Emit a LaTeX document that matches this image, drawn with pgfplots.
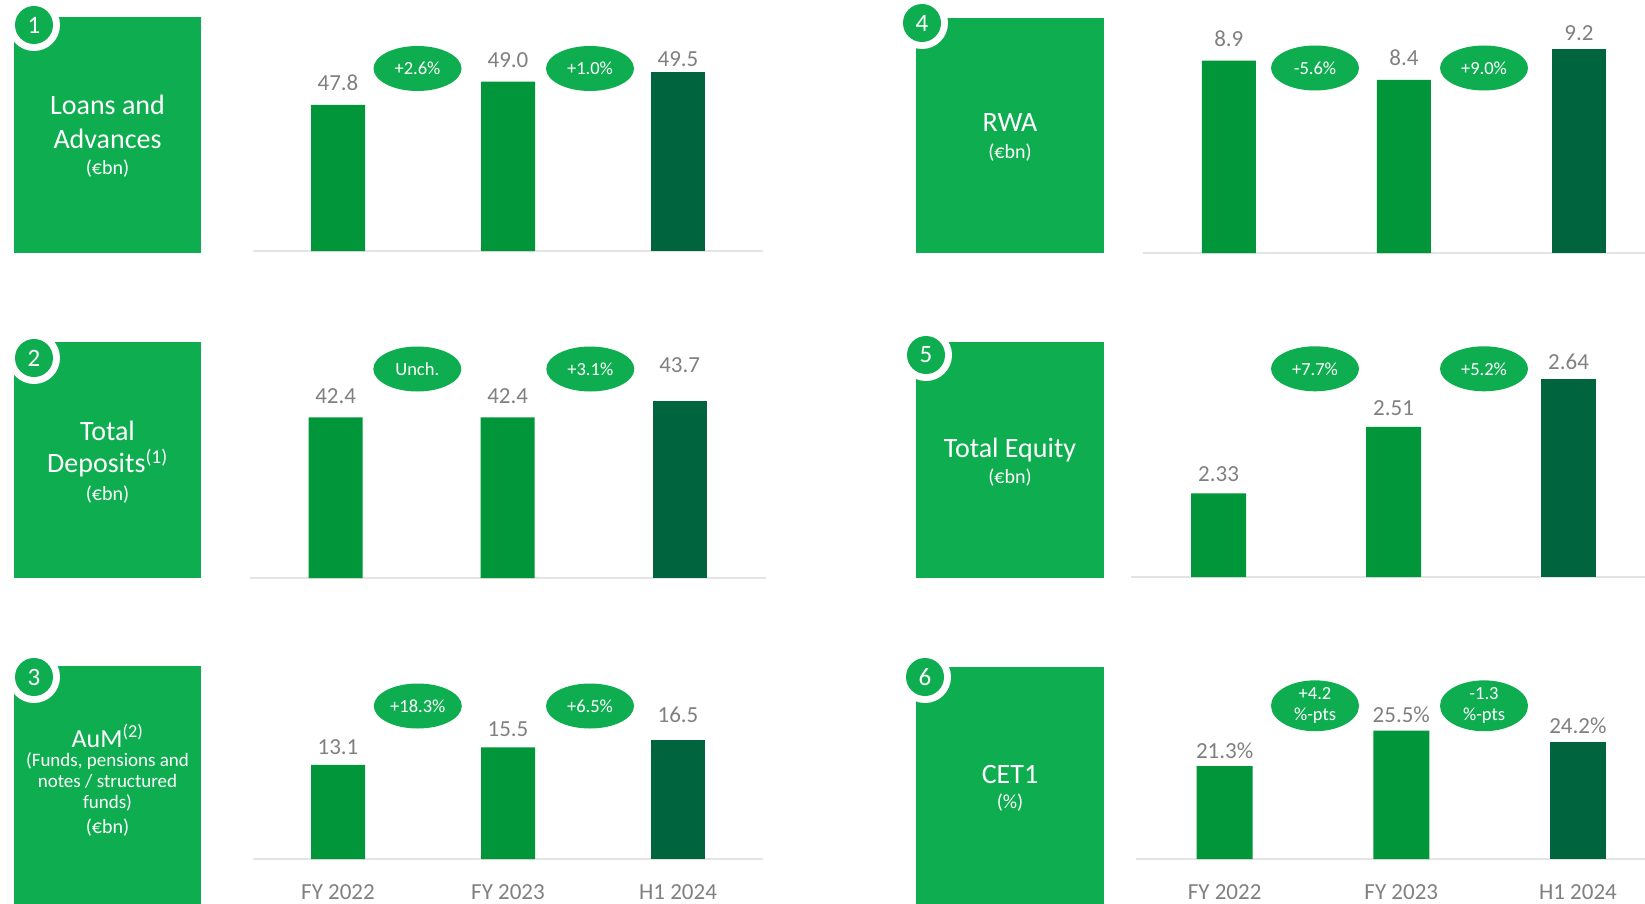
\documentclass[border=0pt]{standalone}
\usepackage{fontspec}
\setmainfont{Carlito}
\usepackage{pgfplots}
\pgfplotsset{compat=1.18}
\usetikzlibrary{shapes.geometric}

\definecolor{boxgreen}{HTML}{0EAE50}
\definecolor{barmid}{HTML}{009639}
\definecolor{bardark}{HTML}{00653F}
\definecolor{valgray}{HTML}{808080}
\definecolor{linegray}{HTML}{E4E4E4}

\newcommand{\fs}[1]{\fontsize{#1}{#1}\selectfont}

\pgfplotsset{
  kpi/.style={
    scale only axis, anchor=south west,
    axis x line*=bottom, axis y line=none,
    x axis line style={-, draw=linegray, line width=2pt},
    xtick=\empty, ytick=\empty, major tick length=0pt,
    /pgf/number format/assume math mode=true,
    every node near coord/.append style={font=\fs{23}, text=valgray, inner sep=0pt},
  },
  cats/.style={
    xtick={0,1,2}, xticklabels={FY 2022,FY 2023,H1 2024},
    xticklabel style={font=\fs{23}, text=valgray, anchor=base, yshift=-40pt},
  },
  kbar/.style={ybar, bar width=54pt, fill=#1, draw=none},
  val/.style={nodes near coords={\pgfmathprintnumber[fixed,fixed zerofill,precision=#1]{\pgfplotspointmeta}}},
  pct/.style={nodes near coords={\pgfmathprintnumber[fixed,fixed zerofill,precision=1]{\pgfplotspointmeta}\%}},
  lift/.style={every node near coord/.append style={yshift=#1}},
}

\tikzset{
  bub/.style={ellipse, fill=boxgreen, minimum width=88pt, minimum height=45pt,
    inner sep=0pt, text=white, font=\fs{18.5}},
  ttl/.style={anchor=base, inner sep=0pt, text=white, font=\fs{28}},
  sub/.style={anchor=base, inner sep=0pt, text=white, font=\fs{20}},
}

\newcommand{\badge}[2]{%
  \fill[white] (#1) circle (26);
  \fill[boxgreen] (#1) circle (19);
  \node[text=white, font=\fs{25}] at (#1) {#2};
}

\begin{document}
\begin{tikzpicture}
\useasboundingbox (0,0) rectangle (1645pt,-904pt);

% 1 Loans and Advances
\begin{axis}[kpi, at={(253pt,-251pt)}, width=510pt, height=221pt,
  xmin=-0.5, xmax=2.5, ymin=40.27, ymax=51.66]
\addplot[kbar=barmid, val=1, lift=14pt] coordinates {(0,47.8) (1,49.0)};
\addplot[kbar=bardark, val=1, lift=5pt] coordinates {(2,49.5)};
\end{axis}

% 2 Total Deposits
\begin{axis}[kpi, at={(249.7pt,-578pt)}, width=516pt, height=238pt,
  xmin=-0.5, xmax=2.5, ymin=29.55, ymax=48.59]
\addplot[kbar=barmid, val=1, lift=13pt] coordinates {(0,42.4) (1,42.4)};
\addplot[kbar=bardark, val=1, lift=28pt] coordinates {(2,43.7)};
\end{axis}

% 3 AuM
\begin{axis}[kpi, cats, at={(253pt,-859pt)}, width=510pt, height=179pt,
  xmin=-0.5, xmax=2.5, ymin=0.31, ymax=24.66]
\addplot[kbar=barmid, val=1, lift=10.5pt] coordinates {(0,13.1) (1,15.5)};
\addplot[kbar=bardark, val=1, lift=17.5pt] coordinates {(2,16.5)};
\end{axis}

% 4 RWA
\begin{axis}[kpi, at={(1143pt,-253pt)}, width=502pt, height=238pt,
  xmin=-0.49, xmax=2.377, ymin=3.935, ymax=10.077]
\addplot[kbar=barmid, val=1, lift=14pt] coordinates {(0,8.9) (1,8.4)};
\addplot[kbar=bardark, val=1, lift=8.5pt] coordinates {(2,9.2)};
\end{axis}

% 5 Total Equity
\begin{axis}[kpi, at={(1131pt,-577pt)}, width=514pt, height=237pt,
  xmin=-0.5, xmax=2.437, ymin=2.104, ymax=2.7445]
\addplot[kbar=barmid, bar width=55pt, val=2, lift=11pt] coordinates {(0,2.33) (1,2.51)};
\addplot[kbar=bardark, bar width=55pt, val=2, lift=9pt] coordinates {(2,2.64)};
\end{axis}

% 6 CET1
\begin{axis}[kpi, cats, at={(1136pt,-859pt)}, width=509pt, height=179pt,
  xmin=-0.502, xmax=2.38, ymin=10.23, ymax=31.54]
\addplot[kbar=barmid, bar width=56pt, pct, lift=7.5pt] coordinates {(0,21.3) (1,25.5)};
\addplot[kbar=bardark, bar width=56pt, pct, lift=7.5pt] coordinates {(2,24.2)};
\end{axis}

\begin{scope}[x=1pt, y=-1pt]
% title boxes
\fill[boxgreen] (14,17) rectangle (201,253);
\fill[boxgreen] (14,342) rectangle (201,578);
\fill[boxgreen] (14,666) rectangle (201,904);
\fill[boxgreen] (916,18) rectangle (1104,253);
\fill[boxgreen] (916,342) rectangle (1104,578);
\fill[boxgreen] (916,667) rectangle (1104,904);

\badge{34,25}{1}
\badge{34,358}{2}
\badge{34,677}{3}
\badge{922,23}{4}
\badge{926,355}{5}
\badge{925,677}{6}

\node[ttl] at (107.5,115) {Loans and};
\node[ttl] at (107.5,148.3) {Advances};
\node[sub] at (107.5,175) {(€bn)};

\node[ttl] at (107.5,440) {Total};
\node[ttl] at (107.5,472.7) {Deposits\textsuperscript{(1)}};
\node[sub] at (107.5,500) {(€bn)};

\node[ttl, font=\fs{26}] at (107.5,747) {AuM\textsuperscript{(2)}};
\node[sub, font=\fs{19}] at (107.5,766) {(Funds, pensions and};
\node[sub, font=\fs{19}] at (107.5,787) {notes / structured};
\node[sub, font=\fs{19}] at (107.5,808.3) {funds)};
\node[sub] at (107.5,833.3) {(€bn)};

\node[ttl] at (1010,132) {RWA};
\node[sub] at (1010,158.5) {(€bn)};

\node[ttl] at (1010,457.4) {Total Equity};
\node[sub] at (1010,483.6) {(€bn)};

\node[ttl] at (1010,783.6) {CET1};
\node[sub] at (1010,808.8) {(\%)};

% change bubbles
\node[bub] at (417.5,68.5) {+2.6\%};
\node[bub] at (590,68.5) {+1.0\%};
\node[bub] at (417.3,369) {Unch.};
\node[bub] at (590.3,369) {+3.1\%};
\node[bub] at (417.8,706) {+18.3\%};
\node[bub] at (590,706) {+6.5\%};
\node[bub] at (1315,68) {-5.6\%};
\node[bub] at (1484,68) {+9.0\%};
\node[bub] at (1315,368.8) {+7.7\%};
\node[bub] at (1484,368.8) {+5.2\%};
\node[bub, align=center, font=\fontsize{18.5}{21}\selectfont] at (1315,705.8) {+4.2\\\%-pts};
\node[bub, align=center, font=\fontsize{18.5}{21}\selectfont] at (1484,705.8) {-1.3\\\%-pts};
\end{scope}
\end{tikzpicture}
\end{document}
